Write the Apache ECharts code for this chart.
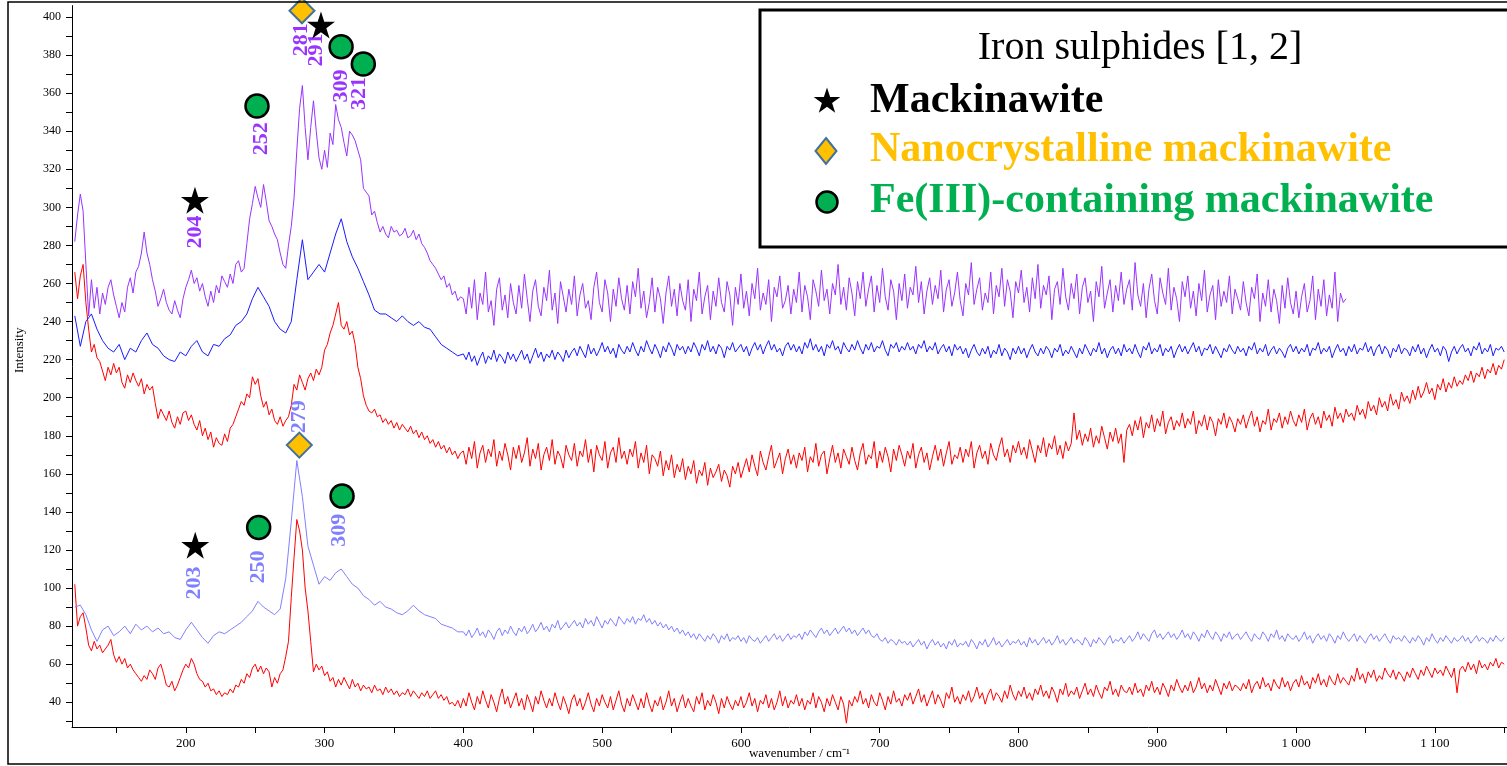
<!DOCTYPE html>
<html><head><meta charset="utf-8">
<script src="https://cdn.jsdelivr.net/npm/echarts@6/dist/echarts.min.js"></script>
<style>html,body{margin:0;padding:0;background:#fff}#c{width:1507px;height:766px}</style>
</head><body><div id="c"></div>
<script>
// Sampling: peak region starts at 120 cm-1 (step 2 or 4 per spectrum), tail from 400 to 1150 cm-1 every 2 cm-1
const PEAK_START = 120;
const TAIL_START = 400, TAIL_STEP = 2;

// purple spectrum (top), peak region step 2
const purplePeak = [
282,296,307,298,270,243,262,247,258,244,255,249,258,262,254,248,242,250,245,258,
263,255,266,269,276,287,276,270,262,256,248,252,257,250,246,244,251,246,242,252,
258,262,267,260,263,256,260,253,248,256,250,259,255,264,261,258,265,260,270,272,
266,268,281,294,302,311,305,300,312,303,293,290,286,283,276,270,268,280,290,305,
330,352,364,342,325,342,356,340,326,320,330,321,339,333,354,346,342,334,327,340,
338,335,330,325,310,308,306,296,298,292,287,290,286,284,290,287,288,285,286,289,
284,285,288,283,286,281,279,276,272,270,268,265,262,264,258,260,254,256,251,253
];
const purpleTail = [
252,244,258,247,262,241,255,249,266,245,251,238,257,263,246,254,242,260,250,244,
259,247,265,252,240,256,262,248,243,258,251,267,246,255,239,261,253,245,257,249,
264,243,254,260,247,251,241,258,266,250,245,262,255,240,257,248,263,252,246,259,
244,261,253,268,247,256,242,250,263,245,258,252,239,255,264,248,257,243,260,251,
246,262,240,257,251,266,244,253,259,241,256,248,263,250,245,261,254,238,258,249,
265,247,256,243,260,252,268,246,255,249,262,240,258,253,264,247,251,259,244,257,
250,266,245,259,253,241,262,256,248,267,251,257,244,260,254,270,249,258,246,263,
255,243,261,252,266,248,257,264,245,259,250,268,253,246,262,256,241,260,251,265,
247,258,254,269,250,261,244,256,263,249,259,252,267,245,257,262,248,255,266,251,
243,260,254,271,249,257,263,246,255,250,266,244,259,253,268,248,262,256,242,261,
255,267,250,258,245,263,252,270,247,259,254,264,241,257,261,249,268,253,246,260,
252,265,244,258,263,250,256,240,261,253,269,247,255,262,245,259,251,266,249,257,
262,246,271,254,248,260,242,257,265,251,244,263,255,249,268,246,258,252,240,261,
253,264,247,256,243,260,251,267,245,254,259,241,262,248,256,250,264,244,257,252,
246,261,250,243,258,252,265,240,255,248,262,245,257,251,239,259,247,263,250,244,
256,242,253,260,245,251,264,241,257,248,262,243,254,247,266,240,255,250,252
];

// blue spectrum, peak region step 4
const bluePeak = [
243,227,240,244,236,230,226,224,228,220,226,224,230,234,228,226,222,220,219,224,
222,227,230,224,222,228,227,231,233,238,240,244,252,258,253,248,240,236,234,240,
262,283,262,266,270,266,276,286,294,282,274,268,261,254,246,244,244,242,240,243,
240,238,240,237,236,232,228,226,224,222
];
const blueTail = [
223,220,224,219,222,217,221,224,218,222,220,225,219,223,221,218,224,220,223,219,
222,225,220,223,218,222,226,221,224,219,223,221,225,220,224,222,219,225,221,224,
226,222,227,224,221,228,223,226,222,225,229,224,227,223,226,221,228,225,223,227,
224,229,225,222,227,224,230,226,223,228,225,221,227,224,229,226,222,228,225,227,
223,227,224,229,226,222,228,225,230,224,227,223,228,226,221,227,225,229,224,226,
228,224,227,222,226,229,225,228,223,227,230,225,228,224,226,222,227,229,225,228,
224,227,223,229,226,231,225,228,224,227,222,228,226,230,225,227,223,229,226,224,
228,225,230,226,223,228,225,229,224,227,226,230,225,222,228,226,229,224,227,225,
229,225,227,223,228,226,230,224,227,225,229,223,226,228,224,227,222,228,225,227,
223,226,221,225,228,224,222,226,223,227,221,225,223,228,222,226,224,220,226,223,
227,223,226,221,225,228,224,222,226,223,227,225,221,226,224,228,222,225,223,227,
224,221,226,223,228,225,222,226,224,229,223,226,221,225,227,223,226,222,228,224,
226,223,228,224,221,227,225,229,223,226,224,228,222,226,224,227,221,225,228,224,
227,223,226,229,224,227,222,226,225,228,223,227,224,221,226,224,228,225,223,227,
224,226,222,227,225,229,223,226,224,228,222,225,227,223,226,224,221,226,228,224,
227,223,226,224,228,222,226,225,229,223,226,224,227,221,225,228,224,226,222,227,
224,228,223,226,225,229,224,227,222,226,228,223,227,225,221,226,224,228,223,226,
225,222,227,224,228,223,226,221,225,228,224,226,222,227,225,219,224,227,223,226,
228,224,226,222,227,225,229,223,226,224,228,222,226,225,227,224
];

// upper red spectrum, peak region step 2
const redUpperPeak = [
266,252,264,270,250,236,224,228,221,219,214,209,216,212,218,213,216,208,205,212,
208,213,209,206,210,202,207,204,206,197,189,194,191,188,193,187,184,190,186,192,
193,188,191,186,183,188,180,184,178,182,174,179,176,175,181,177,184,186,190,194,
198,196,202,200,211,207,210,201,195,198,191,194,188,186,190,185,188,190,196,207,
204,212,208,204,210,213,209,215,212,216,225,228,234,238,244,250,238,236,240,233,
235,228,216,210,201,196,193,192,194,190,191,187,189,186,188,184,187,183,186,184,
182,185,181,183,179,182,178,180,176,178,174,177,173,175,171,174,170,172,168,171
];
const redUpperTail = [
172,165,174,168,177,163,171,175,166,173,169,178,164,172,167,176,170,162,174,168,
175,166,171,179,164,173,168,176,162,170,174,167,178,165,172,169,163,175,170,167,
176,164,172,169,178,166,173,161,175,170,167,177,163,171,174,166,179,168,172,165,
173,169,177,163,171,166,175,160,170,168,164,172,159,167,162,170,158,165,161,168,
157,164,160,167,155,162,159,166,154,163,158,161,165,156,162,159,153,164,160,166,
158,163,168,161,170,164,159,172,166,162,169,175,163,167,171,160,168,173,165,170,
163,171,167,174,161,169,166,176,164,170,172,160,168,175,166,171,163,173,169,165,
174,167,162,171,176,165,170,168,177,163,172,166,174,169,161,173,167,175,170,164,
172,168,176,163,170,174,166,171,162,169,175,167,173,164,171,177,165,170,168,174,
166,173,169,177,163,171,175,168,172,165,176,170,167,174,179,169,173,166,175,171,
177,170,174,168,178,172,166,175,171,179,169,176,173,180,170,175,168,177,172,176,
192,178,183,175,181,177,184,174,180,176,185,179,173,182,177,184,176,181,166,183,
186,180,188,183,190,179,187,184,191,182,189,185,193,181,187,190,183,188,185,192,
184,189,186,193,181,188,185,191,183,190,187,180,189,186,192,184,190,187,182,189,
186,191,184,189,193,185,190,182,188,186,194,183,189,187,192,184,190,186,193,188,
185,191,187,194,183,189,192,186,190,184,193,188,191,185,195,189,192,187,194,190,
192,188,196,191,194,189,198,193,196,191,200,195,198,193,202,196,199,194,203,198,
201,197,204,199,206,200,203,208,202,205,199,207,204,210,203,208,205,211,206,209,
207,212,209,214,208,213,211,216,210,215,213,218,212,217,215,220
];

// light blue spectrum (lower), peak region step 4
const lightBluePeak = [
90,91,86,78,72,78,80,75,77,80,76,81,78,80,77,79,76,77,74,73,
78,82,78,74,71,75,77,76,78,80,82,85,88,93,90,88,86,89,105,135,
167,148,122,112,102,106,104,108,110,106,102,100,96,94,91,93,90,89,87,86,
88,91,88,86,85,84,81,80,79,77
];
const lightBlueTail = [
77,75,78,74,76,79,75,77,74,78,76,73,77,79,75,78,76,80,77,75,
79,77,80,76,78,81,77,79,82,78,80,77,81,79,83,78,80,82,79,81,
83,80,82,79,84,81,83,80,85,82,79,83,81,84,82,80,85,83,81,84,
82,85,81,84,83,86,82,84,81,83,80,82,79,81,78,80,77,79,76,78,
75,77,74,76,73,76,74,72,75,73,76,74,71,75,73,76,72,74,73,75,
72,74,71,75,73,72,74,71,73,75,72,74,76,73,75,72,74,76,73,75,
74,76,73,77,75,78,76,74,77,79,76,78,75,77,79,76,78,80,77,79,
76,78,75,77,79,76,78,75,74,76,73,72,74,71,73,72,70,73,71,72,
70,72,69,71,73,70,72,68,71,73,70,72,69,71,68,72,70,73,69,71,
70,72,69,73,71,68,72,70,73,69,71,74,70,72,69,71,73,70,72,71,
73,70,72,69,74,71,73,70,72,74,71,73,70,72,75,71,73,70,72,74,
71,73,72,70,74,72,69,73,71,74,72,70,73,75,71,73,72,74,71,73,
75,72,74,77,73,76,74,72,76,78,74,76,73,75,77,74,76,73,75,78,
74,76,73,77,75,72,76,74,78,75,73,77,75,72,76,74,77,73,75,76,
73,75,77,74,72,76,74,73,77,75,72,76,74,78,73,75,72,76,74,73,
75,72,74,77,73,75,71,74,76,73,75,72,76,74,71,75,73,77,74,72,
74,76,72,75,73,71,74,76,73,75,72,74,76,73,71,75,73,74,72,75,
73,71,74,72,75,73,70,74,72,76,73,71,74,72,75,73,71,74,72,73,
75,72,74,71,73,75,72,74,73,71,74,72,75,73,72,74
];

// lower red spectrum, peak region step 2
const redLowerPeak = [
102,80,85,87,79,70,67,72,68,70,66,68,70,73,65,61,64,60,63,58,
60,57,55,53,51,54,52,57,55,52,58,60,55,49,48,51,46,49,53,57,
60,58,63,60,55,52,51,48,50,46,47,44,46,43,45,44,47,45,49,48,
52,50,55,53,58,60,56,59,55,58,56,48,53,50,55,57,64,72,95,116,
136,130,120,100,88,72,56,60,57,59,54,56,51,53,48,52,49,53,50,47,
52,48,50,46,49,47,48,45,49,46,47,44,48,45,47,44,46,43,45,44,
47,43,46,44,42,45,43,46,42,44,46,42,44,41,43,39,40,38,41,37
];
const redLowerTail = [
42,38,45,40,36,43,39,46,41,37,44,40,35,42,47,39,43,37,41,45,
38,42,36,44,40,35,43,39,46,41,37,42,38,45,40,36,43,39,34,41,
44,38,42,36,40,45,39,35,42,38,44,40,37,43,36,41,46,39,35,42,
38,44,40,36,42,37,45,39,35,41,38,43,36,40,46,38,42,35,40,44,
37,42,38,35,43,39,45,36,41,38,44,40,34,42,37,43,39,36,41,38,
43,37,40,45,38,42,35,41,39,44,37,42,36,40,46,38,43,37,41,39,
44,38,42,36,41,39,45,37,43,40,35,42,38,44,40,36,43,39,29,41,
38,43,40,46,39,42,37,44,40,38,45,41,36,43,39,46,40,42,38,44,
41,45,39,43,47,40,44,38,42,46,39,44,41,37,45,42,48,40,43,39,
44,41,46,40,43,48,42,45,39,44,47,41,45,43,40,46,42,49,44,41,
46,43,48,42,45,41,47,44,49,43,46,42,48,45,40,47,44,50,43,46,
44,48,42,46,50,44,47,43,49,45,42,48,46,51,44,47,43,49,46,45,
48,44,50,45,47,43,49,46,51,45,48,44,50,47,43,49,46,52,48,45,
49,46,51,45,48,53,47,50,45,49,46,52,48,44,50,47,51,46,49,48,
46,50,47,52,45,49,51,47,53,48,50,46,52,49,47,53,48,51,46,50,
52,48,54,49,51,47,53,50,55,49,52,48,54,51,49,55,50,53,51,49,
54,51,58,52,55,50,56,53,57,51,54,52,58,55,53,57,52,56,54,51,
56,53,58,55,52,57,54,59,56,53,58,55,57,54,59,56,53,58,45,57,
59,56,61,57,60,55,62,58,60,57,61,59,63,58,61,60
];

// axis ticks and tick labels
const xTickValues = [150,200,250,300,350,400,450,500,550,600,650,700,750,800,850,900,950,1000,1050,1100,1150];
const xLabelValues = [200,300,400,500,600,700,800,900,1000,1100];
const yTickValues = [30,40,50,60,70,80,90,100,110,120,130,140,150,160,170,180,190,200,210,220,230,240,250,260,270,280,290,300,310,320,330,340,350,360,370,380,390,400];
const yLabelValues = [40,60,80,100,120,140,160,180,200,220,240,260,280,300,320,340,360,380,400];

// peak annotations: [text, wavenumber, intensity]
const upperPeakLabels = [['204',206.6,287],['252',254.2,336],['281',283,388],['291',293.8,382.7],['309',311.9,363.7],['321',325,359.8]];
const lowerPeakLabels = [['203',206.1,102.6],['250',252.5,111.1],['279',281.8,190],['309',310.6,130.4]];
// reference markers: [wavenumber, intensity]
const mackinawiteMarks = [[206.6,303.8],[297.4,395.8],[206.8,122.5]];
const nanoMarks = [[283.7,403.3],[281.8,175.1]];
const fe3Marks = [[251.3,353.2],[311.9,384.4],[327.9,375.3],[252.5,131.8],[312.6,148.3]];

const legendTitle = 'Iron sulphides [1, 2]';
const legendNames = ['Mackinawite','Nanocrystalline mackinawite','Fe(III)-containing mackinawite'];

// five-point star outline (unit box 0..100) used for the marker symbol and the legend glyph
const STAR_PTS = [[50,0],[61.2,34.5],[97.6,34.5],[68.2,55.9],[79.4,90.5],[50,69.1],[20.6,90.5],[31.8,55.9],[2.4,34.5],[38.8,34.5]];
const STAR = 'M' + STAR_PTS.map(p=>p.join(',')).join('L') + 'Z';
const SERIF = '"Liberation Serif", "Times New Roman", serif';

function pairs(peak, peakStep, tail){
  return peak.map((v,i)=>[PEAK_START+peakStep*i, v]).concat(tail.map((v,i)=>[TAIL_START+TAIL_STEP*i, v]));
}
function lineSeries(name, peak, peakStep, tail, color){
  return {name, type:'line', data:pairs(peak, peakStep, tail), showSymbol:false, symbol:'none',
    lineStyle:{color, width:1}, itemStyle:{color}, animation:false, silent:true, z:2};
}
function labelSeries(list, color){
  return {type:'scatter', data:list.map(d=>({name:d[0], value:[d[1],d[2]]})), symbolSize:1,
    itemStyle:{color:'rgba(0,0,0,0)', opacity:1}, silent:true, animation:false, clip:false, z:3,
    label:{show:true, position:'inside', rotate:90, formatter:p=>p.name, color,
      fontFamily:SERIF, fontWeight:'bold', fontSize:22}};
}
function fmt(v){ return v>=1000 ? String(v).replace(/(\d)(\d{3})$/,'$1 $2') : String(v); }
function starGlyph(cx, cy, size){
  return STAR_PTS.map(p=>[cx + (p[0]-50)/100*size, cy + (p[1]-45)/100*size]);
}

const chart = echarts.init(document.getElementById('c'), null, {renderer:'canvas'});
chart.setOption({
  animation:false,
  backgroundColor:'#fff',
  grid:{left:72, right:0, top:5.6, bottom:39, containLabel:false, outerBoundsMode:'none'},
  xAxis:{type:'value', min:118, max:1152,
    name:'wavenumber / cm⁻¹', nameLocation:'middle', nameGap:20, nameMoveOverlap:false,
    nameTextStyle:{fontFamily:SERIF, fontSize:13, color:'#000', padding:[0,0,0,20]},
    axisLine:{show:true, onZero:false, lineStyle:{color:'#000', width:1}},
    axisTick:{show:true, inside:false, length:6, customValues:xTickValues, lineStyle:{color:'#000'}},
    axisLabel:{customValues:xLabelValues, formatter:fmt, margin:10, fontFamily:SERIF, fontSize:13, color:'#000'},
    splitLine:{show:false}},
  yAxis:{type:'value', min:27, max:406,
    name:'Intensity', nameLocation:'middle', nameGap:46, nameMoveOverlap:false,
    nameTextStyle:{fontFamily:SERIF, fontSize:13, color:'#000', padding:[0,0,0,32]},
    axisLine:{show:true, onZero:false, lineStyle:{color:'#000', width:1}},
    axisTick:{show:true, inside:false, length:6, customValues:yTickValues, lineStyle:{color:'#000'}},
    axisLabel:{customValues:yLabelValues, margin:11, fontFamily:SERIF, fontSize:12, color:'#000'},
    splitLine:{show:false}},
  series:[
    lineSeries('sample 1', redLowerPeak, 2, redLowerTail, '#ff0000'),
    lineSeries('sample 2', lightBluePeak, 4, lightBlueTail, '#8080ff'),
    lineSeries('sample 3', redUpperPeak, 2, redUpperTail, '#ff0000'),
    lineSeries('sample 4', bluePeak, 4, blueTail, '#1a1aff'),
    lineSeries('sample 5', purplePeak, 2, purpleTail, '#9933ff'),
    labelSeries(upperPeakLabels, '#9933ff'),
    labelSeries(lowerPeakLabels, '#8080ff'),
    {name:legendNames[0], type:'scatter', data:mackinawiteMarks, symbol:'path://'+STAR, symbolSize:[28,27],
      itemStyle:{color:'#000', opacity:1}, silent:true, clip:false, z:4},
    {name:legendNames[1], type:'scatter', data:nanoMarks, symbol:'diamond', symbolSize:[25,25],
      itemStyle:{color:'#ffc000', borderColor:'#41719c', borderWidth:2, opacity:1}, silent:true, clip:false, z:4},
    {name:legendNames[2], type:'scatter', data:fe3Marks, symbol:'circle', symbolSize:23,
      itemStyle:{color:'#00b050', borderColor:'#000', borderWidth:2.5, opacity:1}, silent:true, clip:false, z:4}
  ],
  graphic:[
    {type:'rect', shape:{x:8, y:2, width:1520, height:762}, style:{fill:null, stroke:'#000', lineWidth:1.5}, z:10, silent:true},
    {type:'rect', shape:{x:760, y:10, width:750, height:237}, style:{fill:'#fff', stroke:'#000', lineWidth:3}, z:10, silent:true},
    {type:'text', x:1140, y:48, style:{text:legendTitle, font:'40px '+SERIF, fill:'#000', align:'center', verticalAlign:'middle'}, z:11},
    {type:'polygon', shape:{points:starGlyph(827, 100, 28)}, style:{fill:'#000'}, z:11},
    {type:'text', x:870, y:101, style:{text:legendNames[0], font:'bold 42px '+SERIF, fill:'#000', align:'left', verticalAlign:'middle'}, z:11},
    {type:'polygon', shape:{points:[[826,138],[836.5,151],[826,164],[815.5,151]]}, style:{fill:'#ffc000', stroke:'#41719c', lineWidth:2}, z:11},
    {type:'text', x:870, y:150, style:{text:legendNames[1], font:'bold 42px '+SERIF, fill:'#ffc000', align:'left', verticalAlign:'middle'}, z:11},
    {type:'circle', shape:{cx:827, cy:202, r:10.5}, style:{fill:'#00b050', stroke:'#000', lineWidth:2.5}, z:11},
    {type:'text', x:870, y:201, style:{text:legendNames[2], font:'bold 42px '+SERIF, fill:'#00b050', align:'left', verticalAlign:'middle'}, z:11}
  ]
});
</script>
</body></html>
